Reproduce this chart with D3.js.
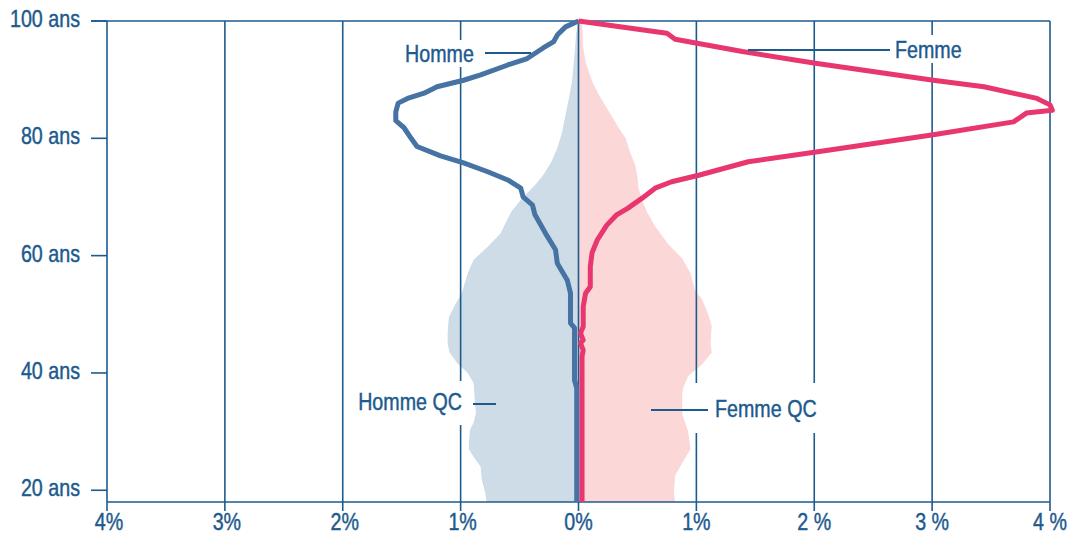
<!DOCTYPE html>
<html><head><meta charset="utf-8">
<script src="https://cdn.jsdelivr.net/npm/d3@7"></script>
<style>
html,body{margin:0;padding:0;background:#fff;}
svg{display:block;font-family:"Liberation Sans",Arial,sans-serif;}
</style></head>
<body>
<svg id="c" width="1068" height="536"></svg>
<script>
// ---- data (percent of population by age) ----
const pctTicks = [-4,-3,-2,-1,0,1,2,3,4];
const pctLabels = ["4%","3%","2%","1%","0%","1%","2 %","3 %","4 %"];
const ageTicks = [20,40,60,80,100];
const ageLabels = ["20 ans","40 ans","60 ans","80 ans","100 ans"];

const hommeQCAges = [100,98,96.5,93,89.7,87,84,81,78.3,76,73.7,72,70,67.5,65.5,63.8,61.5,59.3,57,53.6,51.9,49.5,47,45,44,43.4,41.7,40,38.3,35.4,33.2,31.5,30.3,28,27,25.7,24,21.8,19.5,18];
const hommeQCVals = [0,0.02,0.025,0.04,0.055,0.08,0.11,0.14,0.18,0.23,0.30,0.37,0.47,0.57,0.62,0.66,0.77,0.89,0.94,0.99,1.04,1.10,1.11,1.11,1.10,1.09,1.03,0.94,0.89,0.88,0.87,0.89,0.92,0.93,0.93,0.89,0.83,0.82,0.79,0.78];

const femmeQCAges = [100,95.5,93,91.5,89.5,87.5,85.5,83.5,81.5,80,77.5,75.5,73.5,71.5,69.5,67.5,65,62,59.5,57,54,52.5,50,48,45,43.5,41.5,39.5,37.5,36.5,33,30,27,25,22.5,19.5,18];
const femmeQCVals = [0.03,0.04,0.06,0.085,0.12,0.17,0.23,0.29,0.35,0.40,0.44,0.48,0.50,0.51,0.54,0.58,0.65,0.76,0.88,0.95,0.99,1.05,1.10,1.13,1.12,1.13,1.05,0.93,0.89,0.88,0.88,0.93,0.95,0.89,0.82,0.81,0.82];

const hommeAges = [100,99,97.6,96.5,95.4,94.2,93.6,92.5,90.8,89.9,88.8,87.7,86.8,86,84.5,83,81.8,80,78.6,77,75.8,74.3,72.9,71.5,70,68.6,67,63.8,61,58.7,55.8,53.6,48.5,47.7,38.8,37.4,18];
const hommeVals = [0,0.11,0.18,0.21,0.30,0.39,0.435,0.60,0.83,0.975,1.20,1.31,1.45,1.53,1.55,1.55,1.48,1.42,1.37,1.17,0.975,0.77,0.60,0.49,0.47,0.39,0.37,0.28,0.195,0.18,0.095,0.068,0.068,0.034,0.034,0.015,0.015];

const femmeAges = [100,97.9,96.9,94.8,92.8,89.9,88.8,86.8,85.7,84.8,84.3,82.8,80.6,77.7,76,73.7,72.6,71.5,69.8,68.1,66.9,65.2,62.7,60.5,58.1,54.7,53.6,51.3,47.9,46.8,45.6,45.1,43.9,42.8,18];
const femmeVals = [0,0.75,0.82,1.39,2.01,3.01,3.44,3.89,4.0,4.02,3.80,3.69,3.01,2.03,1.44,1.02,0.79,0.65,0.54,0.42,0.32,0.24,0.16,0.115,0.10,0.10,0.06,0.04,0.04,0.017,0.04,0.017,0.04,0.03,0.03];

// ---- layout ----
const AX = "#1d5a8e";
const FS = 24, SX = 0.82;
const svg = d3.select("#c");
const x = d3.scaleLinear().domain([-4,4]).range([107,1050]);
const y = d3.scaleLinear().domain([18,100]).range([502,21]);

const zip = (a,v,sign)=>a.map((d,i)=>({age:d,v:sign*v[i]}));
function addText(parent, tx, ty, str, anchor){
  parent.append("g").attr("transform",`translate(${tx},${ty}) scale(${SX},1)`)
    .append("text").attr("text-anchor",anchor).attr("font-size",FS).attr("fill",AX)
    .attr("stroke",AX).attr("stroke-width",0.45).text(str);
}

// fills
const area = d3.area().y(d=>y(d.age)).x0(x(0)).x1(d=>x(d.v));
svg.append("path").datum(zip(hommeQCAges,hommeQCVals,-1)).attr("d",area).attr("fill","#cddce6");
svg.append("path").datum(zip(femmeQCAges,femmeQCVals,1)).attr("d",area).attr("fill","#fcd7d8");

// gridlines
svg.append("g").selectAll("line").data(pctTicks).join("line")
  .attr("x1",d=>x(d)).attr("x2",d=>x(d)).attr("y1",y(100)).attr("y2",y(18)+9)
  .attr("stroke",AX).attr("stroke-width",1.6);
// frame
svg.append("line").attr("x1",91).attr("x2",x(4)).attr("y1",y(100)).attr("y2",y(100)).attr("stroke",AX).attr("stroke-width",1.6);
svg.append("line").attr("x1",x(-4)).attr("x2",x(4)).attr("y1",y(18)).attr("y2",y(18)).attr("stroke",AX).attr("stroke-width",1.6);
// y ticks
svg.append("g").selectAll("line").data(ageTicks).join("line")
  .attr("x1",91).attr("x2",x(-4)).attr("y1",d=>y(d)).attr("y2",d=>y(d))
  .attr("stroke",AX).attr("stroke-width",1.6);
const gt = svg.append("g");
ageTicks.forEach((d,i)=>addText(gt, 80, y(d)+6, ageLabels[i], "end"));
pctTicks.forEach((d,i)=>addText(gt, x(d)+(d<0?2:0), 530, pctLabels[i], "middle"));

// label backgrounds (interrupt gridlines)
const boxes = [[400,40,83,27],[890,35,78,28],[352,381,115,44],[694,383,127,50]];
svg.append("g").selectAll("rect").data(boxes).join("rect")
  .attr("x",d=>d[0]).attr("y",d=>d[1]).attr("width",d=>d[2]).attr("height",d=>d[3]).attr("fill","#fff");

// lines
const line = d3.line().y(d=>y(d.age)).x(d=>x(d.v));
svg.append("path").datum(zip(hommeAges,hommeVals,-1)).attr("d",line)
  .attr("fill","none").attr("stroke","#4673a3").attr("stroke-width",5).attr("stroke-linejoin","round");
svg.append("path").datum(zip(femmeAges,femmeVals,1)).attr("d",line)
  .attr("fill","none").attr("stroke","#e8376f").attr("stroke-width",5).attr("stroke-linejoin","round");

// annotations
const leaders = [[485,531,53],[748,890,50],[473,496,404],[651,708,410]];
svg.append("g").selectAll("line").data(leaders).join("line")
  .attr("x1",d=>d[0]).attr("x2",d=>d[1]).attr("y1",d=>d[2]).attr("y2",d=>d[2])
  .attr("stroke",AX).attr("stroke-width",2);
const ga = svg.append("g");
[["Homme",405,62,"start"],["Femme",895,58,"start"],["Homme QC",462,410,"end"],["Femme QC",715,417,"start"]]
  .forEach(d=>addText(ga, d[1], d[2], d[0], d[3]));
</script>
</body></html>
